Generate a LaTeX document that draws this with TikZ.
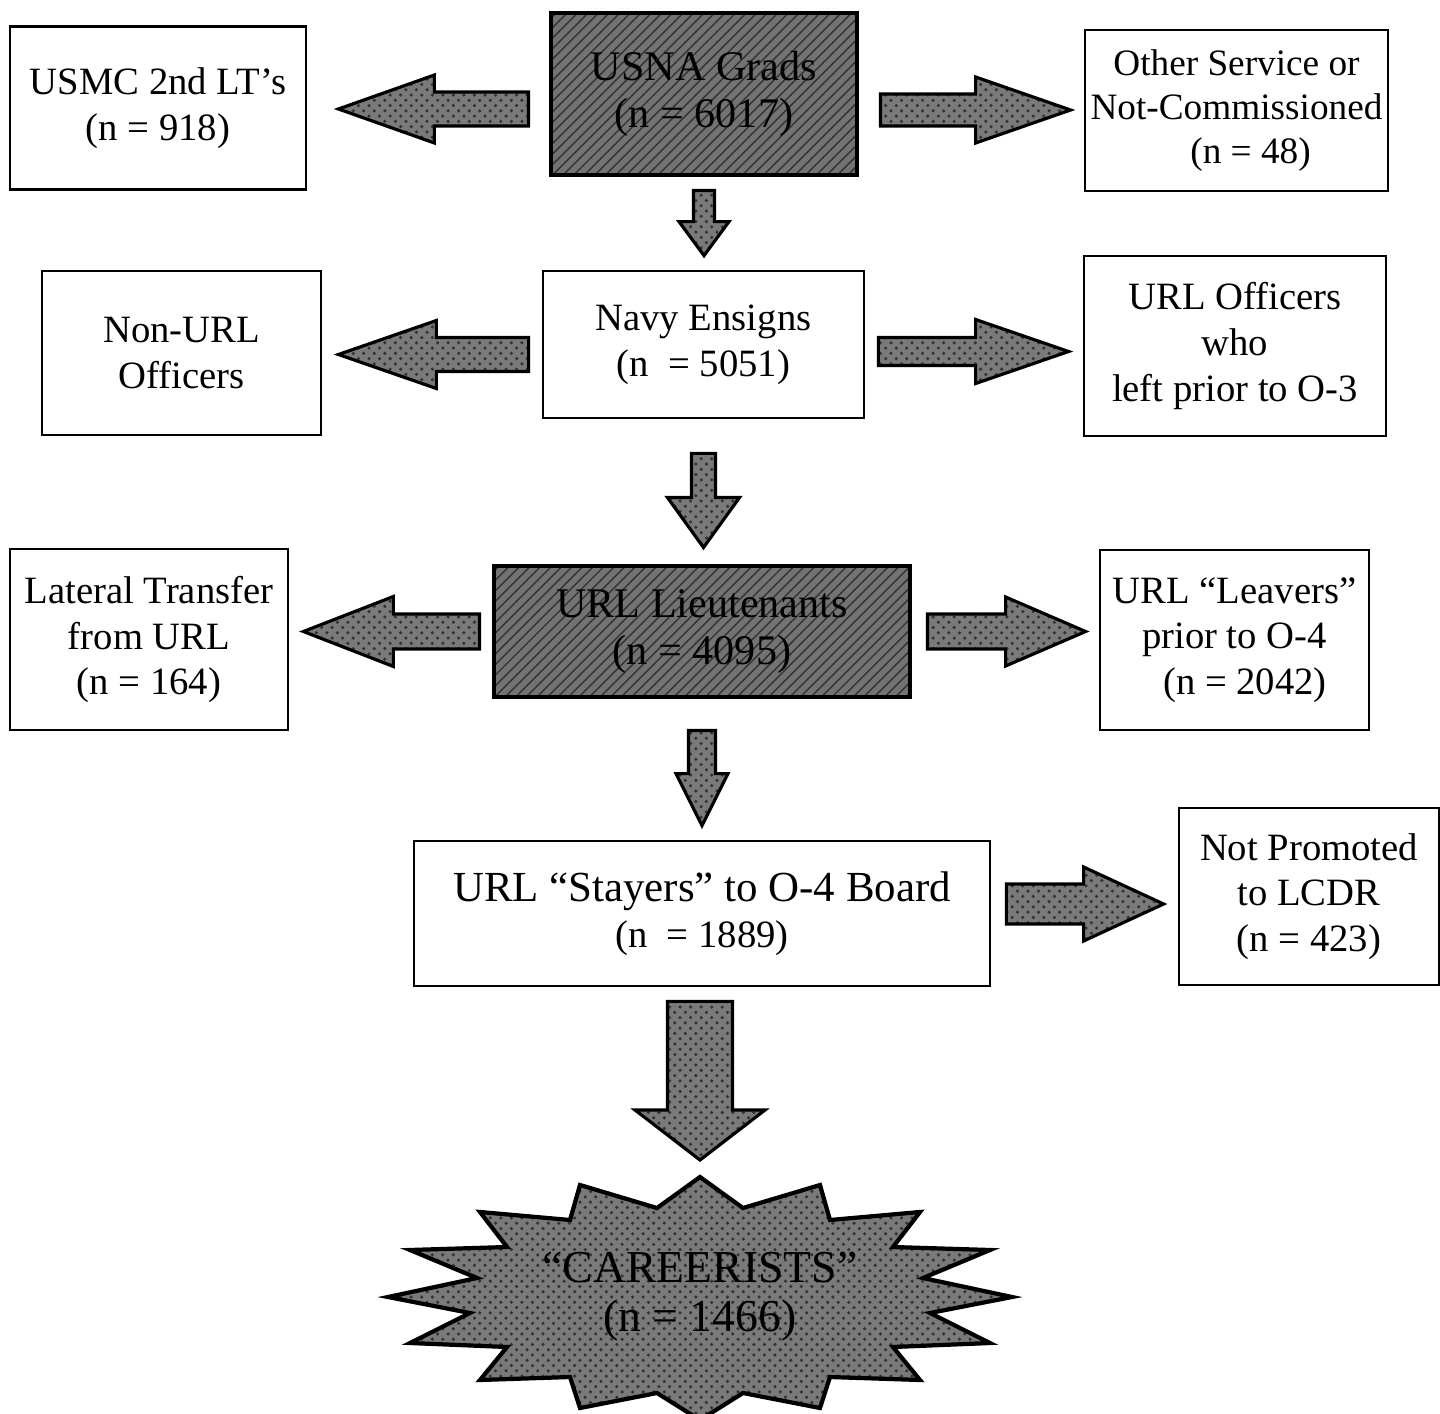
\documentclass[tikz,border=0pt]{standalone}
\usepackage{fontspec}
\setmainfont{Liberation Serif}
\usetikzlibrary{calc,patterns}

% block arrows between two points (shaft half width, head half width, head length)
\newcommand\rarr[5]{\draw[fat] let \p1=(#1), \p2=(#2) in
  (\x1,\y1+#3) -- (\x2-#5,\y1+#3) -- (\x2-#5,\y1+#4) -- (\x2,\y1)
  -- (\x2-#5,\y1-#4) -- (\x2-#5,\y1-#3) -- (\x1,\y1-#3) -- cycle;}
\newcommand\larr[5]{\draw[fat] let \p1=(#1), \p2=(#2) in
  (\x1,\y1+#3) -- (\x2+#5,\y1+#3) -- (\x2+#5,\y1+#4) -- (\x2,\y1)
  -- (\x2+#5,\y1-#4) -- (\x2+#5,\y1-#3) -- (\x1,\y1-#3) -- cycle;}
\newcommand\darr[5]{\draw[fat] let \p1=(#1), \p2=(#2) in
  (\x1+#3,\y1) -- (\x1+#3,\y2+#5) -- (\x1+#4,\y2+#5) -- (\x1,\y2)
  -- (\x1-#4,\y2+#5) -- (\x1-#3,\y2+#5) -- (\x1-#3,\y1) -- cycle;}

\begin{document}
\begin{tikzpicture}
[
 font=\fontsize{11}{13}\selectfont,
 inner sep=0.5mm,
 box/.style={rectangle, draw=black, fill=white, line width=0.8pt, align=center},
 dark/.style={box, line width=1.4pt, preaction={fill=black!55}, pattern=north east lines, pattern color=black!80},
 fat/.style={draw=black, line width=0.9pt, preaction={fill=black!52}, pattern=crosshatch dots, pattern color=black!80},
 big/.style={font=\fontsize{12}{13.5}\selectfont}
 ],
 %
\useasboundingbox (0,0) rectangle (14.4,14.13);
%
\node [dark, big, minimum width=3.06cm, minimum height=1.62cm] (usna)    at ( 7.04, 13.19)  {USNA Grads\\(n = 6017)};
\node [box, minimum width=2.96cm, minimum height=1.63cm]       (usmc)    at ( 1.58, 13.05)  {USMC 2nd LT’s\\(n = 918)};
\node [box, font=\fontsize{10.6}{12.4}\selectfont, minimum width=3.03cm, minimum height=1.61cm]
                                                               (other)   at (12.365, 13.025) {Other Service or\\Not-Commissioned\\\hspace*{8pt}(n = 48)};
%
\node [box, minimum width=3.21cm, minimum height=1.47cm]       (ensign)  at ( 7.035, 10.685) {Navy Ensigns\\(n\ \ = 5051)};
\node [box, minimum width=2.79cm, minimum height=1.64cm]       (nonurl)  at ( 1.815, 10.60)  {Non-URL\\Officers};
\node [box, minimum width=3.02cm, minimum height=1.80cm]       (urloff)  at (12.35, 10.67)  {URL Officers\\who\\left prior to O-3};
%
\node [dark, big, minimum width=4.16cm, minimum height=1.31cm] (lieut)   at ( 7.02, 7.815)  {URL Lieutenants\\(n = 4095)};
\node [box, minimum width=2.78cm, minimum height=1.81cm]       (lateral) at ( 1.49, 7.735)  {Lateral Transfer\\from URL\\(n = 164)};
\node [box, minimum width=2.69cm, minimum height=1.80cm]       (leaver)  at (12.345, 7.73)  {URL “Leavers”\\prior to O-4\\\hspace*{6pt}(n = 2042)};
%
\node [box, minimum width=5.76cm, minimum height=1.45cm]       (stayer)  at ( 7.02, 4.995)  {{\fontsize{12.2}{14}\selectfont URL “Stayers” to O-4 Board}\\(n\ \ = 1889)};
\node [box, minimum width=2.60cm, minimum height=1.77cm]       (notprom) at (13.09, 5.165)  {Not Promoted\\to LCDR\\(n = 423)};
%
\coordinate (carc) at (7.00, 1.16);
\draw [fat, line width=1.2pt, shift={(carc)}] (0,1.20) -- (0.43,0.89) -- (1.20,1.12) -- (1.30,0.77)
  -- (2.20,0.85) -- (1.93,0.50) -- (2.90,0.47) -- (2.23,0.19) -- (3.12,0) -- (2.30,-0.16)
  -- (2.90,-0.46) -- (1.93,-0.50) -- (2.20,-0.83) -- (1.30,-0.80) -- (1.20,-1.11) -- (0.43,-0.96)
  -- (0,-1.23) -- (-0.43,-0.96) -- (-1.20,-1.11) -- (-1.30,-0.80) -- (-2.20,-0.83) -- (-1.93,-0.50)
  -- (-2.90,-0.46) -- (-2.30,-0.16) -- (-3.12,0) -- (-2.23,0.19) -- (-2.90,0.47) -- (-1.93,0.50)
  -- (-2.20,0.85) -- (-1.30,0.77) -- (-1.20,1.12) -- (-0.43,0.89) -- cycle;
\node [font=\fontsize{13}{14}\selectfont, align=center] (car) at (carc) {“CAREERISTS”\\(n = 1466)};
%
\larr{[xshift=-0.20cm,yshift=-0.15cm]usna.west}{[xshift=0.31cm]usmc.east}{0.17cm}{0.34cm}{0.96cm}
\rarr{[xshift=0.21cm,yshift=-0.16cm]usna.east}{[xshift=-0.13cm]other.west}{0.16cm}{0.33cm}{0.95cm}
\darr{[yshift=-0.13cm]usna.south}{[yshift=0.14cm]ensign.north}{0.105cm}{0.25cm}{0.34cm}
%
\larr{[xshift=-0.13cm,yshift=-0.10cm]ensign.west}{[xshift=0.16cm]nonurl.east}{0.17cm}{0.34cm}{0.98cm}
\rarr{[xshift=0.13cm,yshift=-0.07cm]ensign.east}{[xshift=-0.14cm]urloff.west}{0.14cm}{0.32cm}{0.93cm}
\darr{[yshift=-0.34cm]ensign.south}{[yshift=0.16cm]lieut.north}{0.12cm}{0.36cm}{0.50cm}
%
\larr{[xshift=-0.12cm]lieut.west}{[xshift=0.14cm]lateral.east}{0.175cm}{0.35cm}{0.90cm}
\rarr{[xshift=0.15cm]lieut.east}{[xshift=-0.13cm]leaver.west}{0.175cm}{0.345cm}{0.80cm}
\darr{[yshift=-0.31cm]lieut.south}{[yshift=0.14cm]stayer.north}{0.135cm}{0.26cm}{0.52cm}
%
\rarr{[xshift=0.15cm,yshift=0.095cm]stayer.east}{[xshift=-0.14cm]notprom.west}{0.20cm}{0.37cm}{0.80cm}
\darr{[xshift=-0.02cm,yshift=-0.14cm]stayer.south}{[yshift=1.37cm]car.center}{0.325cm}{0.65cm}{0.50cm}
%
\end{tikzpicture}
\end{document}
